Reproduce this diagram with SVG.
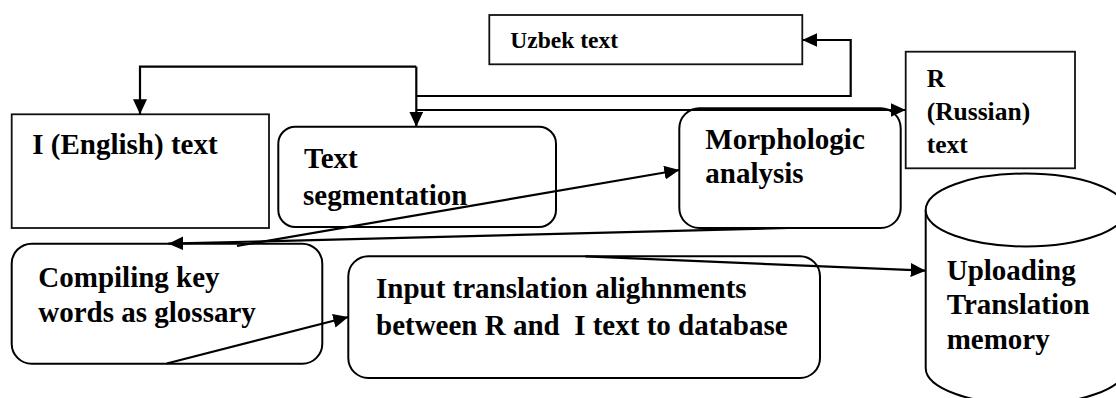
<svg xmlns="http://www.w3.org/2000/svg" width="1116" height="398" viewBox="0 0 1116 398">
  <style>
    .box { fill: #fff; stroke: #000; stroke-width: 2; }
    .sq { fill: #fff; stroke: #111; stroke-width: 1.8; }
    .lbl { font-family: "Liberation Serif", "Times New Roman", serif; font-weight: bold; fill: #000; font-size: 29px; }
    .conn { fill: none; stroke: #000; stroke-width: 2.2; }
  </style>
  <defs>
    <marker id="arrow" markerUnits="userSpaceOnUse" markerWidth="16" markerHeight="15" refX="15" refY="7" orient="auto">
      <path d="M0,0 L15,7 L0,14 z" fill="#000"/>
    </marker>
  </defs>
  <rect width="1116" height="398" fill="#fff"/>

  <g id="uzbek-text">
    <rect class="sq" x="489.3" y="15" width="313" height="49.3"/>
    <text class="lbl" x="510.3" y="48.3" style="font-size:23.5px">Uzbek text</text>
  </g>

  <g id="english-text">
    <rect class="sq" x="11.7" y="114.3" width="257.3" height="113.7"/>
    <text class="lbl" x="32.3" y="154">I (English) text</text>
  </g>

  <g id="text-segmentation">
    <rect class="box" x="278.3" y="126.7" width="277.7" height="100.3" rx="17" ry="17"/>
    <text class="lbl" x="304" y="168.3">Text</text>
    <text class="lbl" x="303" y="205">segmentation</text>
  </g>

  <g id="morphologic-analysis">
    <rect class="box" x="679.3" y="108.3" width="221.4" height="119.7" rx="20" ry="20"/>
    <text class="lbl" x="705.3" y="149">Morphologic</text>
    <text class="lbl" x="705.3" y="183">analysis</text>
  </g>

  <g id="russian-text">
    <rect class="sq" x="905.7" y="51.7" width="169.3" height="116.6"/>
    <text class="lbl" x="926.7" y="87.3" style="font-size:25.5px">R</text>
    <text class="lbl" x="926.7" y="119.8" style="font-size:25.5px">(Russian)</text>
    <text class="lbl" x="926.7" y="152.7" style="font-size:25.5px">text</text>
  </g>

  <g id="compiling-glossary">
    <rect class="box" x="11.7" y="243.7" width="310.6" height="120" rx="20" ry="20"/>
    <text class="lbl" x="38.3" y="287">Compiling key</text>
    <text class="lbl" x="38.3" y="322">words as glossary</text>
  </g>

  <g id="input-alignments">
    <rect class="box" x="348.3" y="256.3" width="471.7" height="121.7" rx="20" ry="20"/>
    <text class="lbl" x="376" y="298">Input translation alighnments</text>
    <text class="lbl" x="376" y="334.7" style="white-space:pre">between R and  I text to database</text>
  </g>

  <g id="translation-memory">
    <path class="box" d="M925.7,210 V368 A100,36.5 0 0 0 1125.7,368 V210"/>
    <ellipse class="box" cx="1025.7" cy="210" rx="100" ry="36.5"/>
    <text class="lbl" x="946.7" y="279.7">Uploading</text>
    <text class="lbl" x="946.7" y="313.5">Translation</text>
    <text class="lbl" x="946.7" y="348.7">memory</text>
  </g>

  <g id="connectors">
    <path class="conn" d="M416.3,66.7 H140 V114.3" marker-end="url(#arrow)"/>
    <path class="conn" d="M416.3,66.7 V126.7" marker-end="url(#arrow)"/>
    <path class="conn" d="M416.3,96 H850.7 V40 H802.3" marker-end="url(#arrow)"/>
    <path class="conn" d="M416.3,110 H905.7" marker-end="url(#arrow)"/>
    <path class="conn" d="M237,246 L679.3,170" marker-end="url(#arrow)"/>
    <path class="conn" d="M789,228 L168.3,243.7" marker-end="url(#arrow)"/>
    <path class="conn" d="M166.7,363.5 L348.3,317" marker-end="url(#arrow)"/>
    <path class="conn" d="M585.3,256.3 L925.7,270.7" marker-end="url(#arrow)"/>
  </g>
</svg>
